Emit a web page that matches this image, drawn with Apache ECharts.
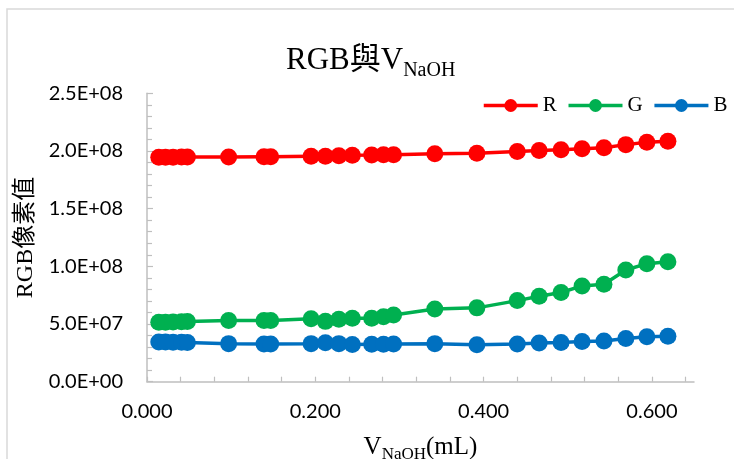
<!DOCTYPE html>
<html>
<head>
<meta charset="utf-8">
<script src="https://cdn.jsdelivr.net/npm/echarts@6/dist/echarts.min.js"></script>
<style>
  html, body { margin: 0; padding: 0; background: #fff; }
  #chart { width: 734px; height: 459px; }
</style>
</head>
<body>
<div id="chart"></div>
<script>
// NaOH volume added (mL) for each measurement
const vNaOH = [0.014, 0.022, 0.031, 0.041, 0.048, 0.097, 0.139, 0.147, 0.195, 0.212,
  0.228, 0.244, 0.267, 0.281, 0.293, 0.342, 0.392, 0.440, 0.466, 0.492,
  0.517, 0.543, 0.569, 0.594, 0.619];

// Summed pixel values per channel
const rValues = [194.5e6, 194.5e6, 194.5e6, 194.7e6, 194.8e6, 194.8e6, 195.0e6, 195.0e6, 195.5e6, 195.5e6,
  195.8e6, 196.2e6, 196.5e6, 196.8e6, 196.8e6, 197.5e6, 198.0e6, 199.5e6, 200.5e6, 201.0e6,
  202.0e6, 202.8e6, 205.5e6, 207.5e6, 208.5e6];
const gValues = [51.5e6, 51.5e6, 51.8e6, 52.0e6, 52.2e6, 53.0e6, 53.0e6, 53.0e6, 54.5e6, 52.3e6,
  54.2e6, 55.0e6, 55.0e6, 56.3e6, 57.8e6, 63.0e6, 64.0e6, 70.3e6, 74.0e6, 77.3e6,
  83.0e6, 84.5e6, 96.8e6, 102.3e6, 104.0e6];
const bValues = [34.5e6, 34.5e6, 34.3e6, 34.2e6, 34.0e6, 33.0e6, 32.7e6, 32.7e6, 33.0e6, 33.8e6,
  33.0e6, 32.3e6, 32.5e6, 32.5e6, 32.7e6, 33.0e6, 32.0e6, 32.7e6, 33.5e6, 34.0e6,
  34.8e6, 35.2e6, 37.5e6, 39.0e6, 39.3e6];

// Axis tick values
const xLabelValues = [0, 0.2, 0.4, 0.6];
const xTickValues = [0, 0.04, 0.08, 0.12, 0.16, 0.2, 0.24, 0.28, 0.32, 0.36, 0.4,
  0.44, 0.48, 0.52, 0.56, 0.6, 0.64];

const seriesNames = ['R', 'G', 'B'];
const seriesColors = ['#FF0000', '#00B050', '#0070C0'];

const SERIF = '"Liberation Serif", "Noto Sans CJK TC", serif';
const SANS = 'Lato, "Noto Sans", sans-serif';
const AXIS_GRAY = '#BFBFBF';

function sci(v) {
  // 2.5E+08 style labels
  const parts = v.toExponential(1).split('e');
  const exp = parseInt(parts[1], 10);
  const sign = exp < 0 ? '-' : '+';
  const e = String(Math.abs(exp)).padStart(2, '0');
  return parts[0] + 'E' + sign + e;
}

function pairs(ys) {
  return vNaOH.map((x, i) => [x, ys[i]]);
}

const chart = echarts.init(document.getElementById('chart'), null, { renderer: 'canvas' });

chart.setOption({
  animation: false,
  backgroundColor: '#fff',
  graphic: [{
    type: 'rect',
    silent: true,
    shape: { x: 7, y: 9, width: 800, height: 500 },
    style: { fill: 'none', stroke: '#D9D9D9', lineWidth: 1.5 }
  }],
  title: {
    text: '{m|RGB與V}{s|NaOH}',
    left: 281,
    top: 35,
    textStyle: {
      fontWeight: 'normal',
      rich: {
        m: { fontFamily: SERIF, fontWeight: 'normal', fontSize: 31, color: '#000', lineHeight: 41, verticalAlign: 'middle' },
        s: { fontFamily: SERIF, fontWeight: 'normal', fontSize: 20, color: '#000', lineHeight: 20, verticalAlign: 'bottom' }
      }
    }
  },
  legend: {
    orient: 'horizontal',
    left: 482,
    top: 95,
    width: 300,
    padding: 0,
    itemWidth: 54,
    itemHeight: 16,
    itemGap: 10,
    data: seriesNames,
    lineStyle: { width: 3.5 },
    textStyle: { fontFamily: SERIF, fontSize: 21, color: '#000' }
  },
  grid: {
    left: 147,
    top: 93.3,
    right: 40,
    bottom: 77.3,
    containLabel: false,
    outerBoundsMode: 'none'
  },
  xAxis: {
    type: 'value',
    min: 0,
    max: 0.65,
    interval: 0.2,
    name: '{m|V}{s|NaOH}{m|(mL)}',
    nameLocation: 'middle',
    nameGap: 50,
    nameTextStyle: {
      rich: {
        m: { fontFamily: SERIF, fontSize: 25, color: '#000', lineHeight: 31, verticalAlign: 'middle' },
        s: { fontFamily: SERIF, fontSize: 17, color: '#000', lineHeight: 17, verticalAlign: 'bottom' }
      }
    },
    axisLine: { show: true, lineStyle: { color: AXIS_GRAY, width: 1.5 } },
    axisTick: {
      show: true, inside: true, length: 5,
      customValues: xTickValues,
      lineStyle: { color: AXIS_GRAY, width: 1.2 }
    },
    axisLabel: {
      customValues: xLabelValues,
      margin: 20,
      fontFamily: SANS, fontSize: 20, color: '#000',
      formatter: v => v.toFixed(3)
    },
    splitLine: { show: false }
  },
  yAxis: {
    type: 'value',
    min: 0,
    max: 2.5e8,
    interval: 5e7,
    name: 'RGB像素值',
    nameLocation: 'middle',
    nameGap: 94,
    nameRotate: 90,
    nameTextStyle: { fontFamily: SERIF, fontSize: 24, color: '#000' },
    axisLine: { show: true, lineStyle: { color: AXIS_GRAY, width: 1.5 } },
    axisTick: { show: true, inside: true, length: 6, lineStyle: { color: AXIS_GRAY, width: 1.2 } },
    minorTick: { show: true, splitNumber: 5, length: 5, lineStyle: { color: AXIS_GRAY, width: 1.2 } },
    axisLabel: {
      margin: 24,
      fontFamily: SANS, fontSize: 20, color: '#000',
      formatter: v => sci(v)
    },
    splitLine: { show: false }
  },
  series: [rValues, gValues, bValues].map((ys, i) => ({
    name: seriesNames[i],
    type: 'line',
    data: pairs(ys),
    symbol: 'circle',
    symbolSize: 17,
    showSymbol: true,
    lineStyle: { color: seriesColors[i], width: 3.5 },
    itemStyle: { color: seriesColors[i] },
    z: 3 - i
  }))
});
</script>
</body>
</html>
